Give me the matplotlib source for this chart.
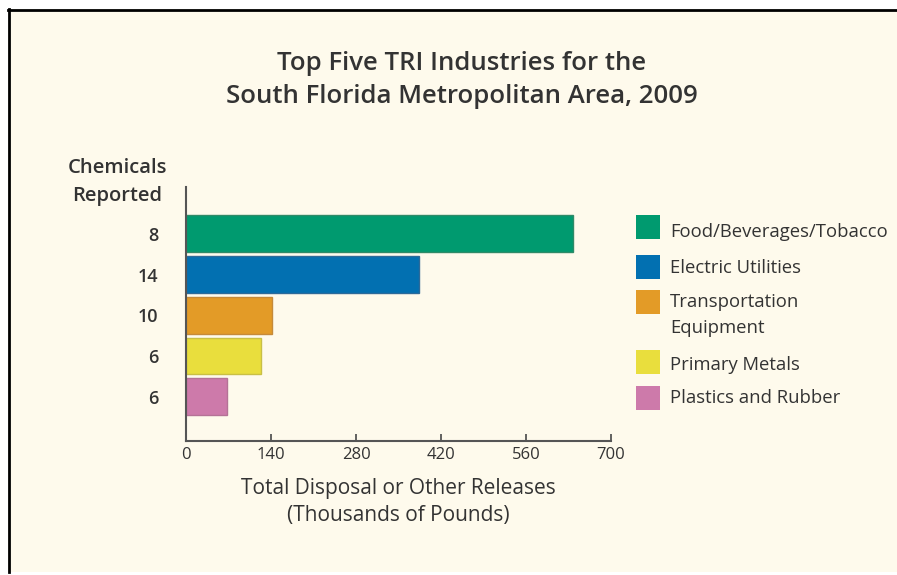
import matplotlib
matplotlib.use("Agg")
import matplotlib.pyplot as plt
from matplotlib.patches import Rectangle
from matplotlib.lines import Line2D

# data
industries = ["Food/Beverages/Tobacco", "Electric Utilities",
              "Transportation\nEquipment", "Primary Metals", "Plastics and Rubber"]
chemicals = ["8", "14", "10", "6", "6"]
releases = [637, 383, 142, 124, 67]
colors = ["#009a6f", "#0270b1", "#e39b27", "#e9de3d", "#cd7aaa"]
edge_colors = ["#2f8a68", "#2d6a99", "#c58a3a", "#c9bf45", "#b47296"]
xticks = [0, 140, 280, 420, 560, 700]

plt.rcParams['font.family'] = ['Open Sans', 'DejaVu Sans']
text_color = "#333333"
bg = "#fefaec"

fig = plt.figure(figsize=(8.97, 5.75), dpi=100)
fig.patch.set_facecolor("white")

# cream panel with black left/top border
W, H = 897, 575
fig.patches.append(Rectangle((8 / W, 1 - 572 / H), 1, (572 - 9) / H,
                             transform=fig.transFigure, facecolor=bg,
                             edgecolor="none", zorder=-5))
fig.lines.append(Line2D([8.5 / W, 8.5 / W], [1 - 572 / H, 1 - 9 / H],
                        transform=fig.transFigure, color="black", lw=2))
fig.lines.append(Line2D([8 / W, 1], [1 - 9.5 / H, 1 - 9.5 / H],
                        transform=fig.transFigure, color="black", lw=2))

ax = fig.add_axes([186 / W, 1 - 441 / H, 425 / W, (441 - 187) / H])
ax.set_zorder(2)
ax.set_facecolor("none")

ypos = list(range(len(releases)))
ax.barh(ypos, releases, height=0.9, color=colors, edgecolor=edge_colors, linewidth=1)
ax.set_xlim(0, 700)
ax.set_ylim(5.09, -1.15)

ax.set_xticks(xticks)
ax.set_xticklabels([str(t) for t in xticks], fontsize=12, color=text_color)
ax.tick_params(axis="x", direction="in", length=5, width=1.3, color="#555555", pad=4)
ax.set_yticks(ypos)
ax.set_yticklabels(chemicals, fontsize=13, fontweight="semibold", color=text_color)
ax.tick_params(axis="y", length=0, pad=20)

for s in ["top", "right"]:
    ax.spines[s].set_visible(False)
for s in ["left", "bottom"]:
    ax.spines[s].set_color("#555555")
    ax.spines[s].set_linewidth(1.5)

ax.set_xlabel("Total Disposal or Other Releases\n(Thousands of Pounds)",
              fontsize=15, color=text_color, labelpad=11, linespacing=1.4)

fig.text(462 / W, 1 - 80 / H, "Top Five TRI Industries for the\nSouth Florida Metropolitan Area, 2009",
         ha="center", va="center", fontsize=18.5, fontweight="semibold",
         color=text_color, linespacing=1.45)
fig.text(117 / W, 1 - 182 / H, "Chemicals\nReported", ha="center", va="center",
         fontsize=14.5, fontweight="semibold", color=text_color, linespacing=1.5)

# legend
sq_tops = [215, 255, 290, 350, 386]
text_y = [232, 268, 315, 365, 398]
for c, ec, name, top, ty in zip(colors, edge_colors, industries, sq_tops, text_y):
    fig.patches.append(Rectangle((636 / W, 1 - (top + 24) / H), 24 / W, 24 / H,
                                 transform=fig.transFigure, facecolor=c,
                                 edgecolor="none"))
    fig.text(670 / W, 1 - ty / H, name, ha="left", va="center", fontsize=13.3,
             color=text_color, linespacing=1.55)

fig.savefig("out.png", dpi=100, facecolor=fig.get_facecolor())
